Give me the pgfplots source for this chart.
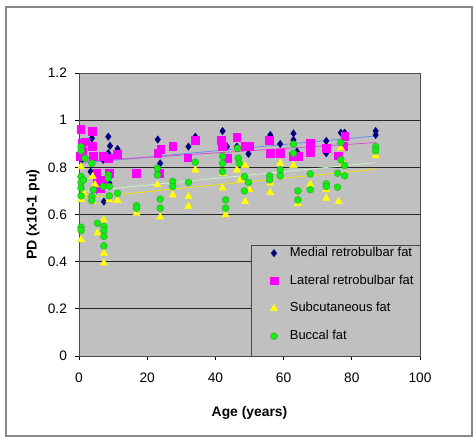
\documentclass[border=0pt]{standalone}
\usepackage{pgfplots}
\pgfplotsset{compat=1.18}
\usepackage{fontspec}
\setmainfont{Liberation Sans}

\definecolor{plotbg}{HTML}{C0C0C0}
\definecolor{medcol}{HTML}{000080}
\definecolor{latcol}{HTML}{FF00FF}
\definecolor{subcol}{HTML}{FFFF00}
\definecolor{bufill}{HTML}{11EE11}
\definecolor{budraw}{HTML}{33A033}
\definecolor{medtr}{HTML}{6A8FE8}
\definecolor{lattr}{HTML}{D050D0}
\definecolor{subtr}{HTML}{F0E000}
\definecolor{butr}{HTML}{CCF5CC}
\definecolor{framecol}{HTML}{888888}

\begin{document}
\begin{tikzpicture}
\path[use as bounding box] (-59.25pt,-60.75pt) rectangle (295.5pt,267pt);
\draw[framecol, line width=0.8pt] (-54.75pt,-60pt) rectangle (294.75pt,261.75pt);

\begin{axis}[
    scale only axis,
    width=255.75pt, height=212.25pt,
    xmin=0, xmax=100, ymin=0, ymax=1.2,
    xtick={0,20,...,100},
    ytick={0,0.2,...,1.2},
    yticklabels={0,0.2,0.4,0.6,0.8,1,1.2},
    axis background/.style={fill=plotbg},
    axis line style={draw=gray!60!black, line width=0.7pt},
    ymajorgrids,
    grid style={black!85, line width=0.6pt},
    tick align=outside,
    major tick length=3pt,
    tick style={black, line width=0.6pt},
    xtick pos=bottom, ytick pos=left,
    tick label style={font=\fontsize{10.3}{12}\selectfont},
    /pgf/number format/assume math mode=true,
    xticklabel style={yshift=-6pt},
    yticklabel style={xshift=-2.5pt},
    xlabel={\bfseries Age (years)},
    ylabel={\bfseries PD (x10-1 pu)},
    xlabel style={at={(axis description cs:0.5,-0.2)}, anchor=center, font=\fontsize{10.4}{12}\selectfont},
    ylabel style={at={(axis description cs:-0.135,0.5)}, anchor=center, font=\fontsize{10.6}{12}\selectfont},
    legend cell align=left,
    legend style={at={(axis description cs:0.548,0.395)}, anchor=north west,
        draw=none, fill=none, font=\fontsize{9.7}{11}\selectfont,
        nodes={inner sep=0pt, text height=7pt, text depth=2pt},
        row sep=11.75pt,
        /tikz/every odd column/.append style={column sep=9pt}},
]
\draw[fill=plotbg, draw=gray!55!black, line width=0.7pt]
    (axis description cs:0.507,0) rectangle (axis description cs:1,0.389);

% Medial retrobulbar fat
\addplot[only marks, mark=diamond*, mark size=2.7pt, color=medcol] coordinates {
(1.0,0.888) (0.8,0.832) (3.8,0.923) (3.4,0.782) (5.2,0.705) (7.3,0.655)
(7.1,0.832) (8.6,0.930) (9.1,0.891) (8.6,0.860) (8.9,0.733) (11.3,0.878)
(23.1,0.918) (23.8,0.817) (32.1,0.888) (34.1,0.930) (42.1,0.954) (43.4,0.888)
(46.3,0.888) (49.7,0.857) (56.1,0.937) (59.0,0.899) (62.9,0.944) (62.9,0.916)
(63.9,0.867) (72.5,0.912) (72.5,0.860) (76.8,0.947) (77.9,0.947) (87.0,0.954)
(87.0,0.937)
};
\addlegendentry{Medial retrobulbar fat}

% Lateral retrobulbar fat
\addplot[only marks, mark=square*, mark size=2.9pt, color=latcol] coordinates {
(0.5,0.961) (0.8,0.902) (0.3,0.846) (1.1,0.867) (1.8,0.909) (3.8,0.952)
(3.8,0.888) (4.2,0.846) (5.2,0.775) (5.4,0.740) (6.2,0.712) (7.1,0.846)
(7.3,0.747) (8.6,0.839) (8.8,0.775) (11.3,0.856) (16.9,0.775) (23.1,0.860)
(24.0,0.877) (23.6,0.775) (27.5,0.888) (31.9,0.841) (34.1,0.916) (41.8,0.916)
(42.1,0.888) (43.4,0.839) (46.3,0.928) (48.7,0.888) (50.0,0.888) (55.9,0.916)
(56.1,0.860) (59.0,0.860) (62.9,0.846) (64.2,0.846) (67.8,0.863) (67.8,0.902)
(72.5,0.881) (76.1,0.849) (77.6,0.888) (77.9,0.933)
};
\addlegendentry{Lateral retrobulbar fat}

% Subcutaneous fat
\addplot[only marks, mark=triangle*, mark size=3.1pt, color=subcol] coordinates {
(0.6,0.803) (0.6,0.662) (0.6,0.493) (1.3,0.690) (4.0,0.761) (4.0,0.655)
(4.7,0.726) (5.4,0.521) (7.3,0.577) (7.3,0.436) (7.3,0.394) (8.9,0.662)
(11.3,0.659) (16.9,0.606) (23.0,0.726) (23.8,0.589) (27.5,0.683) (32.1,0.676)
(32.1,0.634) (34.1,0.789) (42.1,0.775) (42.1,0.712) (43.0,0.599) (46.3,0.789)
(47.3,0.747) (48.7,0.808) (48.7,0.655) (50.0,0.705) (56.1,0.733) (56.1,0.693)
(59.0,0.817) (62.9,0.808) (64.2,0.645) (67.8,0.728) (72.5,0.705) (72.5,0.669)
(76.1,0.655) (76.8,0.881) (77.6,0.817) (87.0,0.849)
};
\addlegendentry{Subcutaneous fat}

% Buccal fat
\addplot[only marks, mark=*, mark size=2.6pt, mark options={fill=bufill, draw=budraw, line width=0.3pt}] coordinates {
(0.6,0.888) (0.6,0.870) (0.6,0.761) (0.6,0.736) (0.6,0.712) (0.6,0.679)
(0.6,0.546) (0.6,0.532) (1.8,0.839) (1.3,0.747) (3.8,0.817) (3.8,0.676)
(4.2,0.705) (3.7,0.659) (5.4,0.563) (7.1,0.719) (7.3,0.549) (7.3,0.532)
(7.3,0.507) (7.3,0.467) (8.6,0.768) (8.6,0.754) (8.9,0.719) (8.9,0.679)
(11.3,0.690) (16.9,0.638) (16.9,0.627) (23.0,0.796) (23.0,0.768) (23.8,0.665)
(23.8,0.627) (27.5,0.740) (27.5,0.719) (32.1,0.736) (34.1,0.822) (42.1,0.846)
(42.1,0.817) (42.1,0.782) (43.0,0.662) (43.0,0.627) (46.5,0.881) (46.7,0.839)
(47.0,0.817) (48.5,0.761) (48.5,0.700) (49.7,0.736) (55.9,0.764) (55.9,0.747)
(59.0,0.789) (59.0,0.764) (62.9,0.898) (62.9,0.860) (64.2,0.700) (64.2,0.662)
(67.8,0.772) (67.8,0.705) (72.5,0.730) (72.5,0.719) (75.8,0.775) (75.8,0.716)
(76.8,0.905) (76.8,0.832) (77.9,0.808) (77.9,0.764) (87.0,0.888) (87.0,0.870)
};
\addlegendentry{Buccal fat}

% linear trend lines
\addplot[forget plot, medtr, line width=0.6pt] coordinates {(0.5,0.817) (87,0.933)};
\addplot[forget plot, lattr, line width=0.6pt] coordinates {(0.3,0.824) (87,0.905)};
\addplot[forget plot, subtr, line width=0.6pt] coordinates {(0.5,0.669) (87,0.792)};
\addplot[forget plot, butr, line width=0.6pt] coordinates {(0.5,0.697) (87,0.820)};
\end{axis}
\end{tikzpicture}
\end{document}
